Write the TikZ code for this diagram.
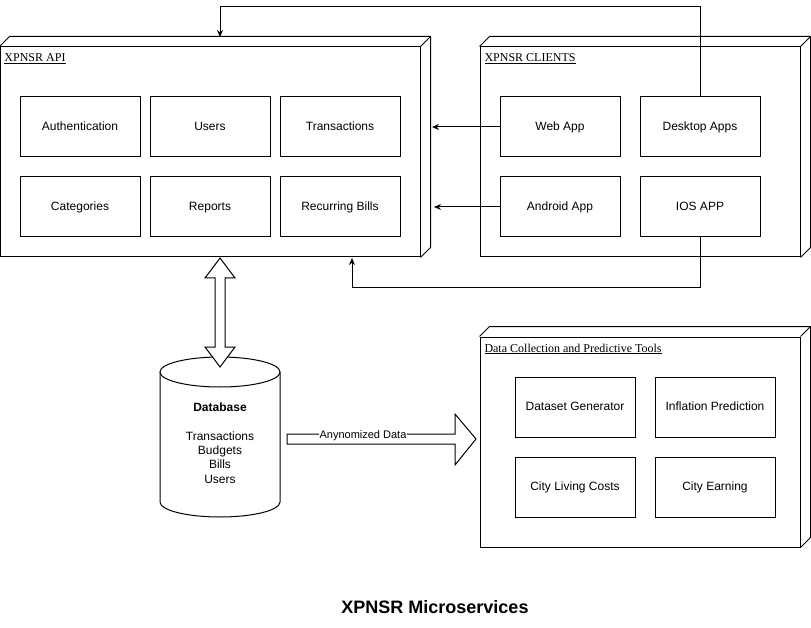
\documentclass[tikz,border=0pt]{standalone}
\usepackage{fontspec}
\setmainfont{Liberation Sans}
\newfontfamily\boxfont{Liberation Serif}
\usetikzlibrary{arrows.meta,calc}

\tikzset{
  comp/.style={draw, fill=white, minimum width=120pt, minimum height=60pt, inner sep=0pt, text height=8.6pt, text depth=2.4pt, font=\fontsize{12}{14}\selectfont},
  front/.style={draw, inner sep=0pt},
  lbl/.style={anchor=base west, inner sep=0pt, font=\boxfont\fontsize{12}{14}\selectfont},
  conn/.style={-{Stealth[length=7pt,width=6pt]}},
}
\newcommand{\cubebox}[1]{%
  \draw (#1.north west) -- ++(10,-10) -| ($(#1.south east)+(10,-10)$) -- (#1.south east);
  \draw (#1.north east) -- ++(10,-10);
}

\begin{document}
\begin{tikzpicture}[x=1pt,y=-1pt,line width=1pt]
      \useasboundingbox[fill=white] (0,0) rectangle (811,628);
      % the three service blocks
      \node[front, minimum width=420pt, minimum height=210pt] (api) at (210,152) {};
      \node[front, minimum width=320pt, minimum height=210pt] (clients) at (640,152) {};
      \node[front, minimum width=320pt, minimum height=210pt] (tools) at (640,442) {};
      \cubebox{api}
      \cubebox{clients}
      \cubebox{tools}
      \node[lbl] at (4,62) {\underline{XPNSR API}};
      \node[lbl] at (484,62) {\underline{XPNSR CLIENTS}};
      \node[lbl] at (484,352) {\underline{Data Collection and Predictive Tools}};

      \node[comp] (auth) at (80,127) {Authentication};
      \node[comp] (users) at (210,127) {Users};
      \node[comp] (trans) at (340,127) {Transactions};
      \node[comp] (cats) at (80,207) {Categories};
      \node[comp] (reports) at (210,207) {Reports};
      \node[comp] (bills) at (340,207) {Recurring Bills};

      \node[comp] (web) at (560,127) {Web App};
      \node[comp] (desk) at (700,127) {Desktop Apps};
      \node[comp] (android) at (560,207) {Android App};
      \node[comp] (ios) at (700,207) {IOS APP};

      \node[comp] (gen) at (575,407) {Dataset Generator};
      \node[comp] (infl) at (715,407) {Inflation Prediction};
      \node[comp] (living) at (575,487) {City Living Costs};
      \node[comp] (earning) at (715,487) {City Earning};

      % clients to api
      \coordinate (apiweb) at (432,127);
      \coordinate (apiand) at (434,207);
      \coordinate (apitop) at (220,37);
      \coordinate (apibot) at (352,258);
      \draw[conn] (web.west) -- (apiweb);
      \draw[conn] (android.west) -- (apiand);
      \draw[conn] (desk.north) -- ++(0,-90) -| (apitop);
      \draw[conn] (ios.south) -- ++(0,50) -| (apibot);

      % database
      \draw[fill=white] (160,372) -- (160,502) arc[start angle=180,end angle=360,x radius=60pt,y radius=15pt] -- (280,372);
      \draw[fill=white] (220,372) ellipse[x radius=60pt,y radius=15pt];
      \node[align=center, font=\fontsize{12}{14.4}\selectfont] (db) at (220,443) {\textbf{Database}\\[14.4pt]Transactions\\Budgets\\Bills\\Users};

      \coordinate (apiout) at (220,258);
      \coordinate (dbin) at (220,367);
      \draw[fill=white] (apiout) -- ++(15,20) -- ++(-10,0) -- ++(0,69) -- ++(10,0) -- (dbin)
        -- ++(-15,-20) -- ++(10,0) -- ++(0,-69) -- ++(-10,0) -- cycle;

      \coordinate (dbout) at (287,439);
      \coordinate (toolsin) at (476,439);
      \draw[fill=white] (dbout) -- ++(0,-5) -- ++(168,0) -- ++(0,-20) -- (toolsin)
        -- ++(-21,26) -- ++(0,-21) -- ++(-168,0) -- cycle;
      \node[fill=white, inner sep=0.5pt, font=\fontsize{11}{13}\selectfont] (anon) at (363,436) {Anynomized Data};

      \node[font=\bfseries\fontsize{18}{22}\selectfont] (title) at (435,607) {XPNSR Microservices};
\end{tikzpicture}
\end{document}
